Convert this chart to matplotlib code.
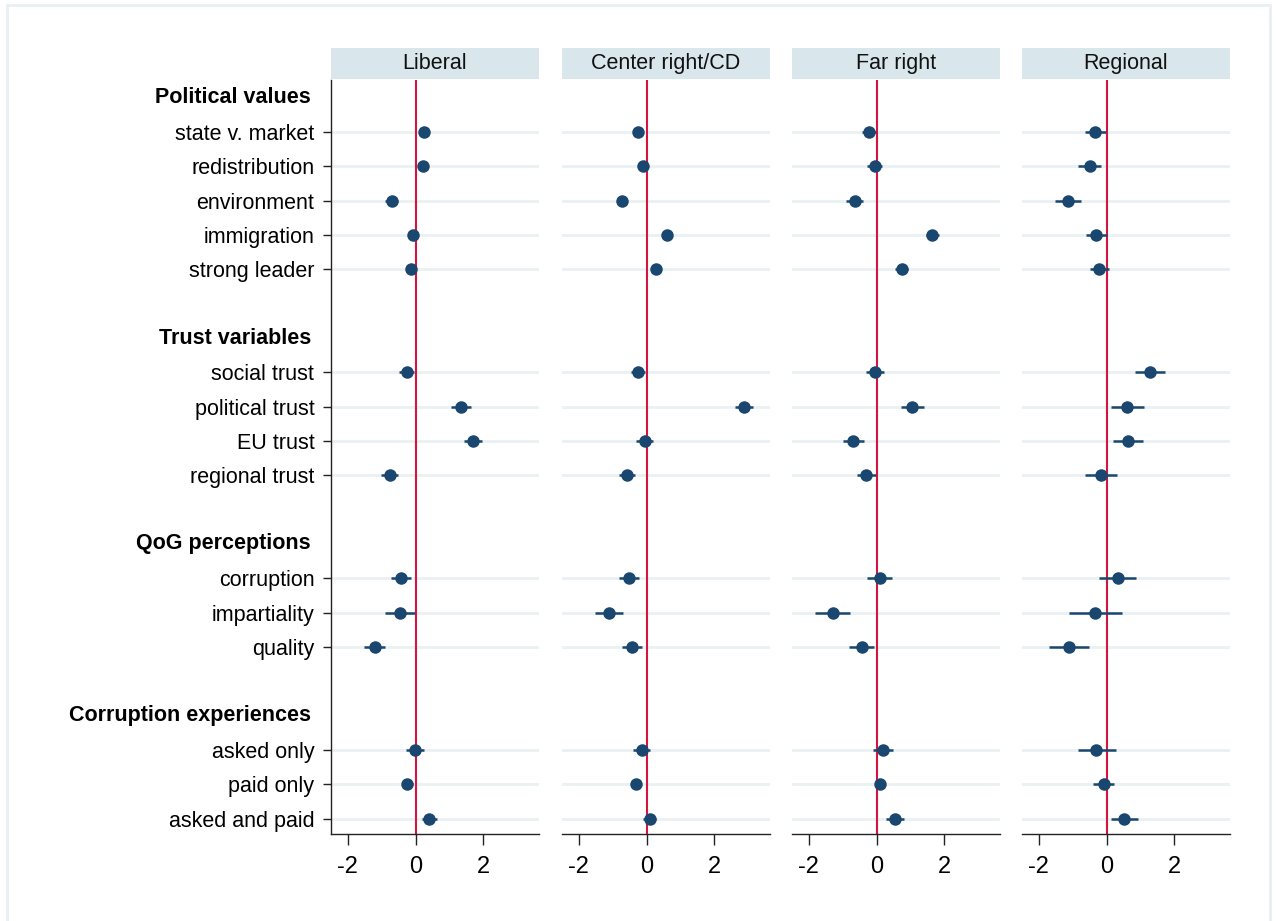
import matplotlib
matplotlib.use('Agg')
import matplotlib.pyplot as plt
from matplotlib.patches import Rectangle
from matplotlib.transforms import blended_transform_factory

plt.rcParams['font.family'] = ['Liberation Sans', 'DejaVu Sans']
plt.rcParams['axes.unicode_minus'] = False

# ---------------- data ----------------
panels = ['Liberal', 'Center right/CD', 'Far right', 'Regional']

group_titles = ['Political values', 'Trust variables', 'QoG perceptions', 'Corruption experiences']
group_items = [
    ['state v. market', 'redistribution', 'environment', 'immigration', 'strong leader'],
    ['social trust', 'political trust', 'EU trust', 'regional trust'],
    ['corruption', 'impartiality', 'quality'],
    ['asked only', 'paid only', 'asked and paid'],
]

liberal_est = [0.25, 0.21, -0.71, -0.08, -0.13, -0.26, 1.35, 1.70, -0.77, -0.43, -0.45, -1.20, -0.02, -0.24, 0.41]
liberal_lo = [0.13, 0.09, -0.91, -0.20, -0.25, -0.48, 1.06, 1.43, -1.02, -0.74, -0.89, -1.51, -0.29, -0.39, 0.20]
liberal_hi = [0.37, 0.33, -0.51, 0.04, -0.01, -0.04, 1.64, 1.97, -0.52, -0.12, -0.01, -0.89, 0.25, -0.09, 0.62]

center_est = [-0.25, -0.11, -0.73, 0.59, 0.28, -0.25, 2.88, -0.05, -0.57, -0.52, -1.11, -0.42, -0.14, -0.31, 0.09]
center_lo = [-0.37, -0.23, -0.88, 0.47, 0.16, -0.45, 2.61, -0.30, -0.80, -0.82, -1.51, -0.72, -0.39, -0.43, -0.11]
center_hi = [-0.13, 0.01, -0.58, 0.71, 0.40, -0.05, 3.15, 0.20, -0.34, -0.22, -0.71, -0.12, 0.11, -0.19, 0.29]

farright_est = [-0.23, -0.06, -0.64, 1.65, 0.74, -0.04, 1.06, -0.69, -0.30, 0.09, -1.30, -0.44, 0.20, 0.09, 0.54]
farright_lo = [-0.43, -0.29, -0.89, 1.45, 0.54, -0.31, 0.73, -1.00, -0.57, -0.28, -1.81, -0.80, -0.10, -0.06, 0.28]
farright_hi = [-0.03, 0.17, -0.39, 1.85, 0.94, 0.23, 1.39, -0.38, -0.03, 0.46, -0.79, -0.08, 0.50, 0.24, 0.80]

regional_est = [-0.34, -0.50, -1.14, -0.31, -0.21, 1.29, 0.61, 0.63, -0.16, 0.33, -0.34, -1.12, -0.30, -0.09, 0.53]
regional_lo = [-0.65, -0.84, -1.51, -0.61, -0.50, 0.84, 0.13, 0.19, -0.63, -0.21, -1.12, -1.69, -0.84, -0.40, 0.14]
regional_hi = [-0.03, -0.15, -0.77, 0.00, 0.08, 1.73, 1.11, 1.09, 0.32, 0.86, 0.46, -0.52, 0.27, 0.21, 0.92]

estimates = [liberal_est, center_est, farright_est, regional_est]
lowers = [liberal_lo, center_lo, farright_lo, regional_lo]
uppers = [liberal_hi, center_hi, farright_hi, regional_hi]

xticks = [-2, 0, 2]

# ---------------- layout ----------------
W, H = 1276, 921
fig = plt.figure(figsize=(W / 100, H / 100), dpi=100)
fig.patch.set_facecolor('white')

NAVY = '#1a476f'
RED = '#d5153f'
GRID = '#eaf1f3'
STRIP = '#d9e6eb'

# row positions: header, items..., gap
header_rows = []
item_rows = []
item_labels = []
r = 0
for gi, (title, items) in enumerate(zip(group_titles, group_items)):
    header_rows.append(r)
    r += 1
    for it in items:
        item_rows.append(r)
        item_labels.append(it)
        r += 1
    r += 1  # gap row

panel_left_px = [331, 562, 792, 1022]
panel_w_px = 208
top_px, bottom_px = 80, 834
strip_top_px = 48

for pi, name in enumerate(panels):
    left = panel_left_px[pi] / W
    ax = fig.add_axes([left, 1 - bottom_px / H, panel_w_px / W, (bottom_px - top_px) / H])
    ax.set_xlim(-2.5, 3.65)
    ax.set_ylim(21.45, -0.52)

    ax.set_yticks(item_rows)
    ax.yaxis.grid(True, color=GRID, linewidth=2.0, zorder=0)
    ax.set_axisbelow(True)
    ax.axvline(0, color=RED, linewidth=1.5, zorder=2)

    est = estimates[pi]
    ax.hlines(item_rows, lowers[pi], uppers[pi], color=NAVY, linewidth=1.8, zorder=3)
    ax.plot(est, item_rows, 'o', color=NAVY, markersize=9, markeredgewidth=0, zorder=4, linestyle='none')

    for s in ['top', 'right']:
        ax.spines[s].set_visible(False)
    ax.spines['bottom'].set_color('#222222')
    ax.spines['bottom'].set_linewidth(1.0)
    ax.set_xticks(xticks)
    ax.set_xticklabels([str(t) for t in xticks])
    ax.tick_params(axis='x', length=8, width=1.0, color='#222222', pad=8, labelsize=17)

    if pi == 0:
        ax.spines['left'].set_color('#222222')
        ax.spines['left'].set_linewidth(1.0)
        ax.set_yticklabels(item_labels)
        ax.tick_params(axis='y', length=5.5, width=1.0, color='#222222', pad=6.5, labelsize=15.5)
        trans = blended_transform_factory(ax.transAxes, ax.transData)
        for hr, title in zip(header_rows, group_titles):
            ax.text(-20 / panel_w_px, hr, title, transform=trans, ha='right', va='center',
                    fontsize=15.5, fontweight='bold', color='black')
    else:
        ax.spines['left'].set_visible(False)
        ax.tick_params(axis='y', length=0, labelleft=False)

    # header strip
    strip = Rectangle((left, 1 - (top_px - 1) / H), panel_w_px / W, (top_px - 1 - strip_top_px) / H,
                      transform=fig.transFigure, facecolor=STRIP, edgecolor='none', zorder=1)
    fig.patches.append(strip)
    fig.text(left + panel_w_px / W / 2, 1 - ((top_px - 1 + strip_top_px) / 2) / H, name,
             ha='center', va='center', fontsize=15.5, color='#111111')

# outer light border
border = Rectangle((7 / W, -0.02), (1270 - 7) / W, 1.02 - 5 / H, transform=fig.transFigure,
                   fill=False, edgecolor='#e8f0f2', linewidth=2.0, zorder=0)
fig.patches.append(border)

fig.savefig('out.png', dpi=100, facecolor='white')
